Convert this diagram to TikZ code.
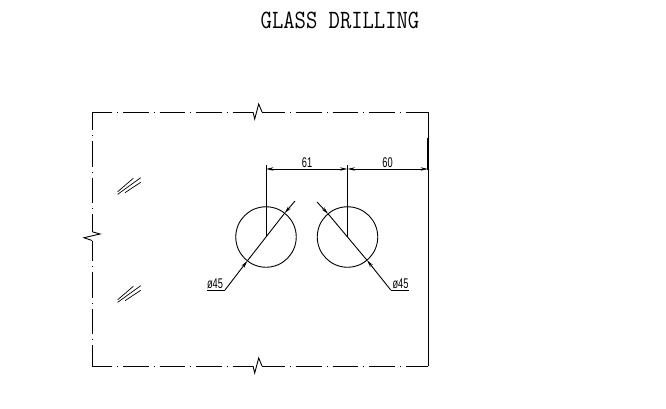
\documentclass[tikz,border=0pt]{standalone}
\usepackage{fontspec}
\setsansfont{Liberation Sans}
\setmonofont{Latin Modern Mono}
\usetikzlibrary{arrows.meta}
\tikzset{
    outline/.style={line width=.95pt, dash pattern=on 25.5pt off 5pt on 1pt off 5pt},
    hole/.style={circle, draw, line width=.9pt, minimum size=60.5pt, inner sep=0pt, outer sep=0pt},
    dimtip/.style={line width=.9pt, {Stealth[length=7.5pt,width=3.4pt]}-{Stealth[length=7.5pt,width=3.4pt]}},
    leadtip/.style={line width=.9pt, -{Stealth[length=7.5pt,width=3.4pt]}},
    dimtext/.style={font=\sffamily\fontsize{14}{14}\selectfont, xscale=.66, inner sep=0pt},
}
\begin{document}
\begin{tikzpicture}[x=1pt, y=-1pt, line width=.9pt]
\useasboundingbox (0,0) rectangle (666,409);
\node [font=\ttfamily\fontsize{22}{22}\selectfont, yscale=1.2, inner sep=0pt] (title) at (340,20) {GLASS DRILLING};

% outline of the glass
\draw [outline, dash phase=5.5pt] (92,112) -- (253,112);
\draw [outline, dash phase=5.5pt] (92,366) -- (253,366);
\draw [outline, dash phase=2.5pt] (262,112) -- (428,112);
\draw [outline, dash phase=2.5pt] (262,366) -- (428,366);
\draw [outline, dash phase=7.5pt] (92,112) -- (92,232);
\draw [outline, dash phase=4.8pt] (92,240.5) -- (92,366);
\draw (428,112) -- (428,366);
\draw [line width=1.3pt] (428,138) -- (428,170);

% break marks
\draw (253,112) -- (254.7,119) -- (258.7,104) -- (262,112);
\draw (253,366) -- (254.7,373) -- (258.7,358) -- (262,366);
\draw (92,231.7) -- (100,234) -- (84,237.7) -- (92,240.5);

% glass hatching
\foreach \hy in {0,108} {
    \draw [line width=.7pt] (117.7,191.7+\hy) -- (133.3,178.3+\hy);
    \draw [line width=.7pt] (117.7,194.3+\hy) -- (140.7,177.7+\hy);
    \draw [line width=.7pt] (125,192.7+\hy) -- (140.7,182.3+\hy);
}

% holes
\node [hole] (holeL) at (266,237) {};
\node [hole] (holeR) at (347.5,237) {};

% dimensions
\coordinate (extL) at (266,165);
\coordinate (extR) at (347.5,165);
\coordinate (dimL) at (266,169);
\coordinate (dimM) at (347.5,169);
\coordinate (dimR) at (428,169);
\draw (extL) -- (holeL.center);
\draw (extR) -- (holeR.center);
\draw [dimtip] (dimL) -- (dimM);
\draw [dimtip] (dimM) -- (dimR);
\node [dimtext] (dimA) at (307,162.5) {61};
\node [dimtext] (dimB) at (387.5,162.5) {60};

% left leader
\coordinate (tailL) at (295,201);
\coordinate (elbowL) at (225,290);
\coordinate (shelfL) at (207,290);
\node [dimtext] (dmL) at (215,284) {ø45};
\draw [leadtip] (elbowL) -- (holeL.232);
\draw [leadtip] (tailL) -- (holeL.52);
\draw (holeL.232) -- (holeL.52);
\draw (shelfL) -- (elbowL);

% right leader
\coordinate (tailR) at (317,202);
\coordinate (elbowR) at (390.7,290);
\coordinate (shelfR) at (408.5,290);
\node [dimtext] (dmR) at (400.5,284) {ø45};
\draw [leadtip] (elbowR) -- (holeR.310);
\draw [leadtip] (tailR) -- (holeR.130);
\draw (holeR.130) -- (holeR.310);
\draw (elbowR) -- (shelfR);
\end{tikzpicture}
\end{document}
